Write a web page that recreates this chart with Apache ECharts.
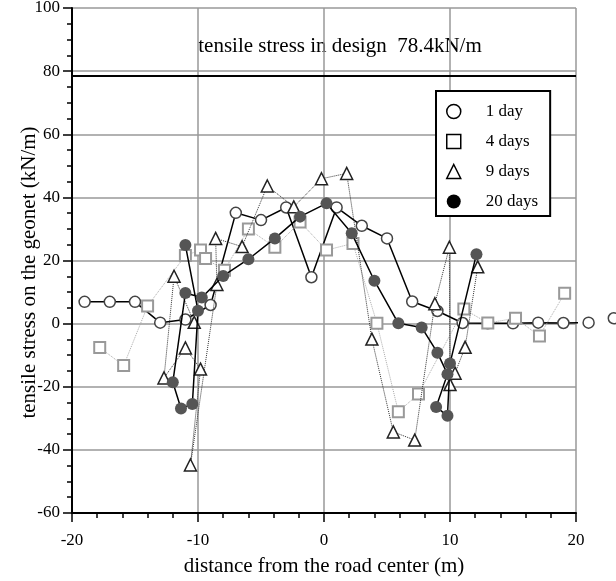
<!DOCTYPE html>
<html>
<head>
<meta charset="utf-8">
<title>tensile stress on the geonet</title>
<script src="https://cdn.jsdelivr.net/npm/echarts@6/dist/echarts.min.js"></script>
<style type="text/css">
	body{margin:0;}
	div#chart{
		width: 616px;
		height: 581px;
	}
</style>
</head>
<body>
<div id="chart"></div>
<script type="text/javascript">
// x = distance from road center (m), y = tensile stress (kN/m)
var day1X = [-19, -17, -15, -13, -11, -9, -7, -5, -3, -1, 1, 3, 5, 7, 9, 11, 13, 15, 17, 19, 21, 23];
var day1Y = [6.9, 6.9, 6.9, 0.3, 1.3, 5.9, 35.1, 32.8, 36.8, 14.7, 36.8, 31.0, 27.0, 7.0, 4.0, 0.2, 0.1, 0.1, 0.3, 0.2, 0.3, 1.7];

var day4X = [-17.8, -15.9, -14, -11, -9.8, -9.4, -7.9, -6, -3.9, -1.9, 0.2, 2.3, 4.2, 5.9, 7.5, 11.1, 13, 15.2, 17.1, 19.1];
var day4Y = [-7.6, -13.3, 5.6, 21.6, 23.3, 20.6, 16.9, 30.0, 24.2, 32.2, 23.3, 25.4, 0.1, -27.9, -22.3, 4.6, 0.2, 1.7, -3.9, 9.6];

var day9X = [-10.3, -11.9, -12.7, -11, -9.8, -10.6, -8.5, -8.6, -6.5, -4.5, -2.4, -0.2, 1.8, 3.8, 5.5, 7.2, 8.8, 9.95, 10, 10.4, 11.2, 12.2];
var day9Y = [0.4, 15.0, -17.2, -7.7, -14.4, -44.8, 12.4, 27.0, 24.4, 43.6, 37.0, 45.9, 47.6, -4.9, -34.3, -36.9, 6.3, 24.2, -19.3, -15.7, -7.5, 18.0];

var day20X = [-11, -10, -10.45, -11.35, -12, -11, -9.7, -8, -6, -3.9, -1.9, 0.2, 2.2, 4.0, 5.9, 7.75, 9.0, 9.8, 8.9, 9.8, 10, 12.1];
var day20Y = [24.9, 4.1, -25.5, -26.9, -18.6, 9.7, 8.3, 15.1, 20.4, 27.0, 33.9, 38.1, 28.6, 13.6, 0.1, -1.2, -9.2, -16.0, -26.4, -29.2, -12.6, 22.0];

var designStress = 78.4;
var legendNames = ['1 day', '4 days', '9 days', '20 days'];

function pairs(xs, ys) {
	var out = [];
	for (var i = 0; i < xs.length; i++) out.push([xs[i], ys[i]]);
	return out;
}

var serif = "'Liberation Serif', 'Times New Roman', serif";

var myChart = echarts.init(document.getElementById('chart'));
var option = {
	animation: false,
	backgroundColor: '#fff',
	grid: {left: 72, right: 40, top: 8, bottom: 68, outerBoundsMode: 'none'},
	graphic: [{
		type: 'text',
		x: 340,
		y: 46,
		style: {
			text: 'tensile stress in design  78.4kN/m',
			font: '21px ' + serif,
			fill: '#000',
			textAlign: 'center',
			textVerticalAlign: 'middle'
		}
	}],
	legend: {
		orient: 'vertical',
		left: 436,
		top: 91,
		padding: [12, 12, 6, 10],
		itemWidth: 14,
		itemHeight: 14,
		itemGap: 13,
		borderColor: '#000',
		borderWidth: 2,
		backgroundColor: '#fff',
		textStyle: {fontFamily: serif, fontSize: 17, color: '#000', padding: [0, 0, 0, 20]},
		data: [
			{name: legendNames[0], icon: 'circle', itemStyle: {color: '#fff', borderColor: '#000', borderWidth: 1.5}},
			{name: legendNames[1], icon: 'rect', itemStyle: {color: '#fff', borderColor: '#000', borderWidth: 1.5}},
			{name: legendNames[2], icon: 'triangle', itemStyle: {color: '#fff', borderColor: '#000', borderWidth: 1.5}},
			{name: legendNames[3], icon: 'circle', itemStyle: {color: '#000', borderColor: '#000', borderWidth: 0}}
		]
	},
	xAxis: {
		type: 'value',
		min: -20,
		max: 20,
		interval: 10,
		name: 'distance from the road center (m)',
		nameLocation: 'middle',
		nameGap: 43,
		nameMoveOverlap: false,
		nameTextStyle: {fontFamily: serif, fontSize: 21, color: '#000'},
		axisLine: {onZero: false, lineStyle: {color: '#000', width: 2}},
		axisTick: {length: 9, lineStyle: {color: '#000', width: 1.5}},
		minorTick: {show: true, splitNumber: 5, length: 5, lineStyle: {color: '#000', width: 1.5}},
		axisLabel: {fontFamily: serif, fontSize: 17, color: '#000', margin: 19},
		splitLine: {lineStyle: {color: '#999', width: 1.5}}
	},
	yAxis: {
		type: 'value',
		min: -60,
		max: 100,
		interval: 20,
		name: 'tensile stress on the geonet (kN/m)',
		nameLocation: 'middle',
		nameGap: 32,
		nameMoveOverlap: false,
		nameTextStyle: {fontFamily: serif, fontSize: 21, color: '#000', padding: [0, 24, 0, 0]},
		axisLine: {onZero: false, lineStyle: {color: '#000', width: 2}},
		axisTick: {length: 9, lineStyle: {color: '#000', width: 1.5}},
		minorTick: {show: true, splitNumber: 4, length: 5, lineStyle: {color: '#000', width: 1.5}},
		axisLabel: {fontFamily: serif, fontSize: 17, color: '#000', margin: 12},
		splitLine: {lineStyle: {color: '#999', width: 1.5}}
	},
	series: [
		{
			name: legendNames[0],
			type: 'line',
			data: pairs(day1X, day1Y),
			clip: false,
			symbol: 'circle',
			symbolSize: 11,
			itemStyle: {color: '#fff', borderColor: '#444', borderWidth: 1.5},
			lineStyle: {color: '#000', width: 1.5},
			markLine: {
				silent: true,
				symbol: 'none',
				label: {show: false},
				lineStyle: {color: '#000', width: 2, type: 'solid'},
				data: [{yAxis: designStress}]
			},
			z: 2
		},
		{
			name: legendNames[1],
			type: 'line',
			data: pairs(day4X, day4Y),
			symbol: 'rect',
			symbolSize: 11,
			itemStyle: {color: '#fff', borderColor: '#999', borderWidth: 2},
			lineStyle: {color: '#aaa', width: 1, type: 'dotted'},
			z: 3
		},
		{
			name: legendNames[2],
			type: 'line',
			data: pairs(day9X, day9Y),
			symbol: 'triangle',
			symbolSize: 12,
			itemStyle: {color: '#fff', borderColor: '#222', borderWidth: 1.5},
			lineStyle: {color: '#333', width: 1, type: 'dotted'},
			z: 4
		},
		{
			name: legendNames[3],
			type: 'line',
			data: pairs(day20X, day20Y),
			symbol: 'circle',
			symbolSize: 12,
			itemStyle: {color: '#555', borderColor: '#555', borderWidth: 0},
			lineStyle: {color: '#000', width: 1.5},
			z: 5
		}
	]
};
myChart.setOption(option);
</script>
</body>
</html>
